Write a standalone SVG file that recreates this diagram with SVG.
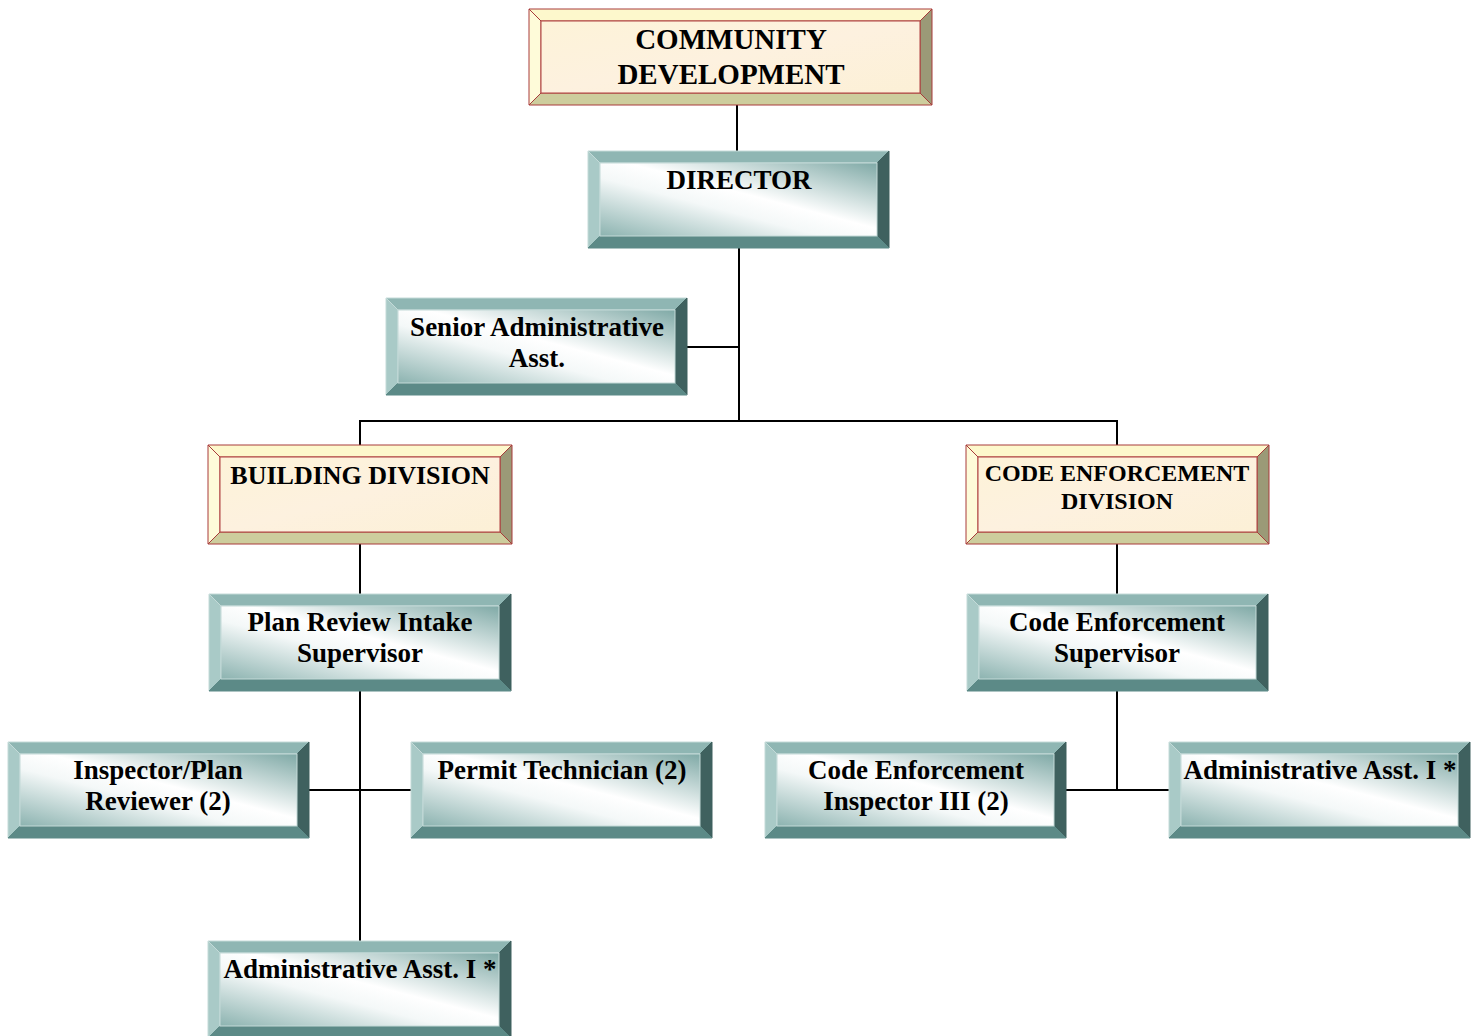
<svg xmlns="http://www.w3.org/2000/svg" width="1481" height="1036" viewBox="0 0 1481 1036">
<defs>
<linearGradient id="tealFill" x1="1" y1="0" x2="0" y2="1">
<stop offset="0" stop-color="#7fa9a6"/>
<stop offset="0.45" stop-color="#ffffff"/>
<stop offset="0.6" stop-color="#f4f8f8"/>
<stop offset="1" stop-color="#8cb3b0"/>
</linearGradient>
<linearGradient id="creamFill" x1="0" y1="0" x2="1" y2="1">
<stop offset="0" stop-color="#fdf3d8"/>
<stop offset="0.5" stop-color="#fdf1df"/>
<stop offset="1" stop-color="#fcf0d6"/>
</linearGradient>
<style>
.t-top{fill:#8fb6b3;stroke:#c4dad8;stroke-width:1}
.t-left{fill:#a9cac7;stroke:#c4dad8;stroke-width:1}
.t-right{fill:#3f615f;stroke:#3f615f;stroke-width:1}
.t-bot{fill:#5c8a87;stroke:#5c8a87;stroke-width:1}
.t-in{fill:url(#tealFill);stroke:#c4dad8;stroke-width:1}
.c-top{fill:#fdf8cc;stroke:#a83a3a;stroke-width:1}
.c-left{fill:#fefbd9;stroke:#a83a3a;stroke-width:1}
.c-right{fill:#9b9a77;stroke:#a83a3a;stroke-width:1}
.c-bot{fill:#cdcd9d;stroke:#a83a3a;stroke-width:1}
.c-in{fill:url(#creamFill);stroke:#b04040;stroke-width:1}
text{font-family:"Liberation Serif","Times New Roman",serif;font-weight:bold;fill:#000;text-anchor:middle;font-size:27px}
text.big{font-size:29px}
text.div{font-size:26px}
text.div2{font-size:24px}
.conn line{stroke:#000;stroke-width:2}
</style>
</defs>

<g id="connectors" class="conn">
<line x1="737" y1="105" x2="737" y2="151"/>
<line x1="739" y1="248" x2="739" y2="422"/>
<line x1="687" y1="347" x2="739" y2="347"/>
<line x1="359" y1="421" x2="1118" y2="421"/>
<line x1="360" y1="420" x2="360" y2="445"/>
<line x1="1117" y1="420" x2="1117" y2="445"/>
<line x1="360" y1="544" x2="360" y2="594"/>
<line x1="1117" y1="544" x2="1117" y2="594"/>
<line x1="360" y1="691" x2="360" y2="941"/>
<line x1="309" y1="790" x2="411" y2="790"/>
<line x1="1117" y1="691" x2="1117" y2="791"/>
<line x1="1066" y1="790" x2="1169" y2="790"/>
</g>

<g id="community-development">
<polygon class="c-top" points="529,9 932,9 920,21 541,21"/>
<polygon class="c-left" points="529,9 541,21 541,93 529,105"/>
<polygon class="c-right" points="932,9 932,105 920,93 920,21"/>
<polygon class="c-bot" points="529,105 541,93 920,93 932,105"/>
<rect class="c-in" x="541" y="21" width="379" height="72"/>
<text class="big" x="731" y="49">COMMUNITY</text>
<text class="big" x="731" y="84">DEVELOPMENT</text>
</g>

<g id="director">
<polygon class="t-top" points="588,151 889,151 877,163 600,163"/>
<polygon class="t-left" points="588,151 600,163 600,236 588,248"/>
<polygon class="t-right" points="889,151 889,248 877,236 877,163"/>
<polygon class="t-bot" points="588,248 600,236 877,236 889,248"/>
<rect class="t-in" x="600" y="163" width="277" height="73"/>
<text x="739" y="189">DIRECTOR</text>
</g>

<g id="senior-admin">
<polygon class="t-top" points="386,298 687,298 675,310 398,310"/>
<polygon class="t-left" points="386,298 398,310 398,383 386,395"/>
<polygon class="t-right" points="687,298 687,395 675,383 675,310"/>
<polygon class="t-bot" points="386,395 398,383 675,383 687,395"/>
<rect class="t-in" x="398" y="310" width="277" height="73"/>
<text x="537" y="336">Senior Administrative</text>
<text x="537" y="367">Asst.</text>
</g>

<g id="building-division">
<polygon class="c-top" points="208,445 512,445 500,457 220,457"/>
<polygon class="c-left" points="208,445 220,457 220,532 208,544"/>
<polygon class="c-right" points="512,445 512,544 500,532 500,457"/>
<polygon class="c-bot" points="208,544 220,532 500,532 512,544"/>
<rect class="c-in" x="220" y="457" width="280" height="75"/>
<text class="div" x="360" y="484">BUILDING DIVISION</text>
</g>

<g id="code-enforcement-division">
<polygon class="c-top" points="966,445 1269,445 1257,457 978,457"/>
<polygon class="c-left" points="966,445 978,457 978,532 966,544"/>
<polygon class="c-right" points="1269,445 1269,544 1257,532 1257,457"/>
<polygon class="c-bot" points="966,544 978,532 1257,532 1269,544"/>
<rect class="c-in" x="978" y="457" width="279" height="75"/>
<text class="div2" x="1117" y="481">CODE ENFORCEMENT</text>
<text class="div2" x="1117" y="509">DIVISION</text>
</g>

<g id="plan-review-supervisor">
<polygon class="t-top" points="209,594 511,594 499,606 221,606"/>
<polygon class="t-left" points="209,594 221,606 221,679 209,691"/>
<polygon class="t-right" points="511,594 511,691 499,679 499,606"/>
<polygon class="t-bot" points="209,691 221,679 499,679 511,691"/>
<rect class="t-in" x="221" y="606" width="278" height="73"/>
<text x="360" y="631">Plan Review Intake</text>
<text x="360" y="662">Supervisor</text>
</g>

<g id="code-enforcement-supervisor">
<polygon class="t-top" points="967,594 1268,594 1256,606 979,606"/>
<polygon class="t-left" points="967,594 979,606 979,679 967,691"/>
<polygon class="t-right" points="1268,594 1268,691 1256,679 1256,606"/>
<polygon class="t-bot" points="967,691 979,679 1256,679 1268,691"/>
<rect class="t-in" x="979" y="606" width="277" height="73"/>
<text x="1117" y="631">Code Enforcement</text>
<text x="1117" y="662">Supervisor</text>
</g>

<g id="inspector-plan-reviewer">
<polygon class="t-top" points="8,742 309,742 297,754 20,754"/>
<polygon class="t-left" points="8,742 20,754 20,826 8,838"/>
<polygon class="t-right" points="309,742 309,838 297,826 297,754"/>
<polygon class="t-bot" points="8,838 20,826 297,826 309,838"/>
<rect class="t-in" x="20" y="754" width="277" height="72"/>
<text x="158" y="779">Inspector/Plan</text>
<text x="158" y="810">Reviewer (2)</text>
</g>

<g id="permit-technician">
<polygon class="t-top" points="411,742 712,742 700,754 423,754"/>
<polygon class="t-left" points="411,742 423,754 423,826 411,838"/>
<polygon class="t-right" points="712,742 712,838 700,826 700,754"/>
<polygon class="t-bot" points="411,838 423,826 700,826 712,838"/>
<rect class="t-in" x="423" y="754" width="277" height="72"/>
<text x="562" y="779">Permit Technician (2)</text>
</g>

<g id="code-enforcement-inspector">
<polygon class="t-top" points="765,742 1066,742 1054,754 777,754"/>
<polygon class="t-left" points="765,742 777,754 777,826 765,838"/>
<polygon class="t-right" points="1066,742 1066,838 1054,826 1054,754"/>
<polygon class="t-bot" points="765,838 777,826 1054,826 1066,838"/>
<rect class="t-in" x="777" y="754" width="277" height="72"/>
<text x="916" y="779">Code Enforcement</text>
<text x="916" y="810">Inspector III (2)</text>
</g>

<g id="admin-asst-ce">
<polygon class="t-top" points="1169,742 1470,742 1458,754 1181,754"/>
<polygon class="t-left" points="1169,742 1181,754 1181,826 1169,838"/>
<polygon class="t-right" points="1470,742 1470,838 1458,826 1458,754"/>
<polygon class="t-bot" points="1169,838 1181,826 1458,826 1470,838"/>
<rect class="t-in" x="1181" y="754" width="277" height="72"/>
<text x="1320" y="779">Administrative Asst. I *</text>
</g>

<g id="admin-asst-building">
<polygon class="t-top" points="208,941 511,941 499,953 220,953"/>
<polygon class="t-left" points="208,941 220,953 220,1026 208,1038"/>
<polygon class="t-right" points="511,941 511,1038 499,1026 499,953"/>
<polygon class="t-bot" points="208,1038 220,1026 499,1026 511,1038"/>
<rect class="t-in" x="220" y="953" width="279" height="73"/>
<text x="360" y="978">Administrative Asst. I *</text>
</g>
</svg>
